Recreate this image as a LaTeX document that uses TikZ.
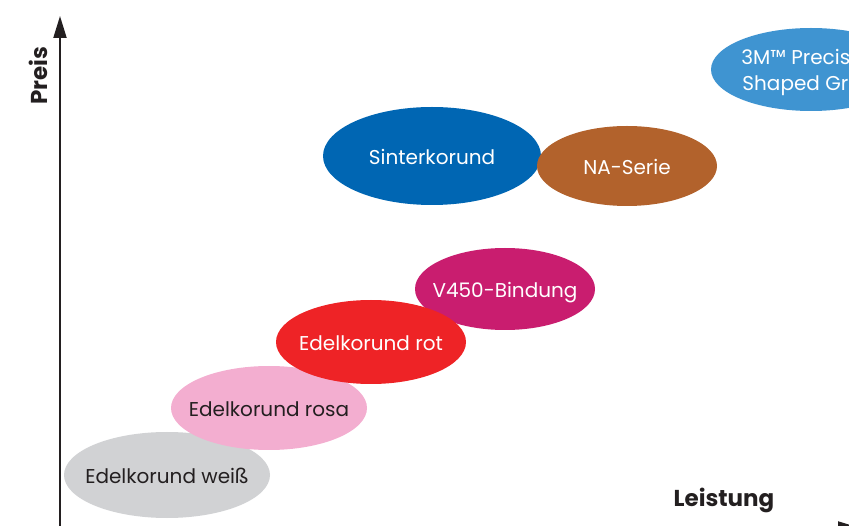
\documentclass[tikz,border=0pt]{standalone}
\usepackage{fontspec}
\setmainfont{Poppins}
\usepackage{xcolor}
\usetikzlibrary{arrows.meta,shapes.geometric}
\definecolor{ink}{HTML}{231F20}
\definecolor{weiss}{HTML}{D1D2D4}
\definecolor{rosa}{HTML}{F3AED0}
\definecolor{rot}{HTML}{EE2326}
\definecolor{bindung}{HTML}{C91D6F}
\definecolor{sinter}{HTML}{0066B3}
\definecolor{naserie}{HTML}{B2622C}
\definecolor{precision}{HTML}{3F94D1}
% text of zero size, so the ellipse keeps its given size
\newcommand{\grainlbl}[1]{\makebox[0pt]{\raisebox{-8pt}[0pt][0pt]{\begin{tabular}{@{}c@{}}#1\end{tabular}}}}
\tikzset{
  grain/.style={ellipse, inner sep=0pt, font=\fontsize{20}{26}\selectfont},
  dark/.style={grain, text=ink},
  light/.style={grain, text=white},
  axis/.style={-{Triangle[length=22pt, width=13pt]}, line width=2pt, draw=ink},
  axlbl/.style={font=\fontsize{23}{26}\selectfont\bfseries, text=ink}
}
\begin{document}
\begin{tikzpicture}[x=1pt, y=-1pt]
\useasboundingbox (0,0) rectangle (849,526);
\clip (0,0) rectangle (849,526);
\coordinate (o) at (60,528);
\coordinate (ytop) at (60,16);
\coordinate (xend) at (860,528);
\draw[axis] (o) -- (ytop);
\draw[axis] (o) -- (xend);
\node[axlbl, rotate=90] (preis) at (38,76) {Preis};
\node[axlbl] (leistung) at (724,500) {Leistung};
\node[dark, fill=weiss, minimum width=206pt, minimum height=86pt] (weiss) at (167,475) {\grainlbl{Edelkorund weiß}};
\node[dark, fill=rosa, minimum width=196pt, minimum height=84pt] (rosa) at (269,408) {\grainlbl{Edelkorund rosa}};
\node[light, fill=bindung, minimum width=180pt, minimum height=82pt] (v450) at (505,289) {\grainlbl{V450-Bindung}};
\node[light, fill=rot, minimum width=190pt, minimum height=84pt] (rot) at (371,342) {\grainlbl{Edelkorund rot}};
\node[light, fill=sinter, minimum width=218pt, minimum height=98pt] (sinter) at (432,156) {\grainlbl{Sinterkorund}};
\node[light, fill=naserie, minimum width=180pt, minimum height=80pt] (na) at (627,166) {\grainlbl{NA-Serie}};
\node[light, fill=precision, minimum width=200pt, minimum height=83pt] (prec) at (811,69.5) {\grainlbl{3M™ Precision\\Shaped Grain}};
\end{tikzpicture}
\end{document}
